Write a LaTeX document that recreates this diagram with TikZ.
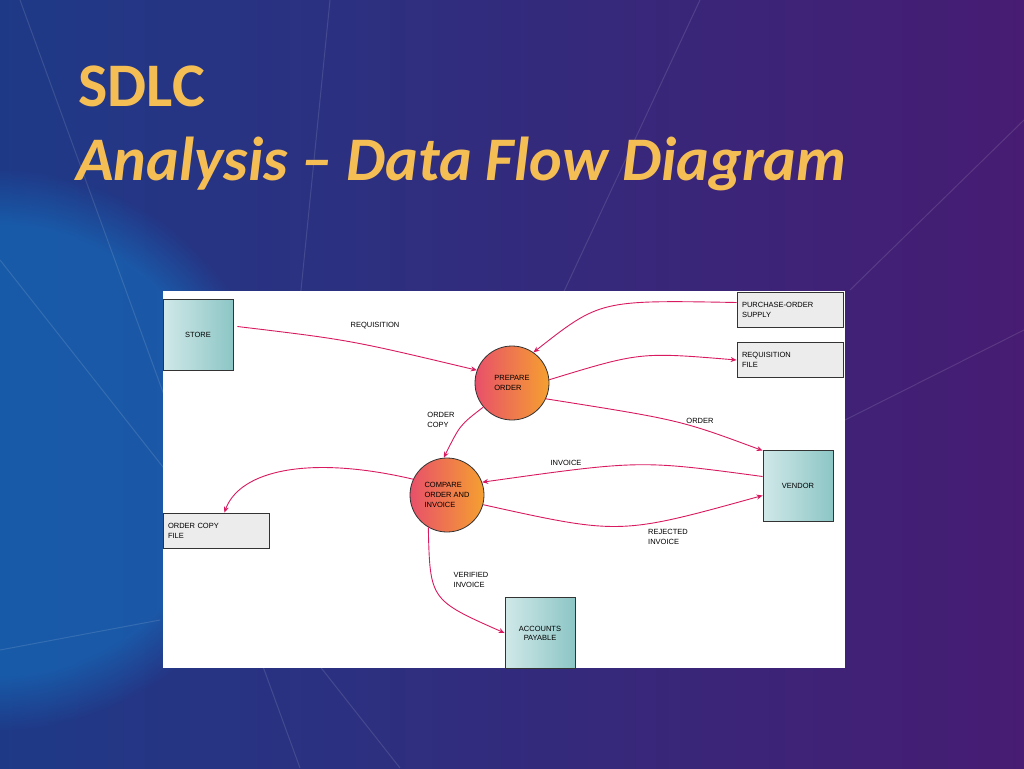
\documentclass[tikz,border=0pt]{standalone}
\usepackage{fontspec}
\setmainfont{Carlito}
\newfontfamily\dfd{Liberation Sans}
\usetikzlibrary{arrows.meta,shapes.geometric,fadings}
\definecolor{bgblue}{HTML}{1C4C9E}
\definecolor{bgpurple}{HTML}{5A1E7E}
\definecolor{bgdark}{HTML}{241A5E}
\definecolor{flow}{HTML}{D81B60}
\definecolor{gold}{HTML}{F5BE55}
\definecolor{pl}{HTML}{E8506A}
\definecolor{pr}{HTML}{F5A030}
\tikzset{
  ent/.style={draw=black!80, line width=0.8pt, left color=white!70!teal!60, right color=teal!45, minimum width=70pt, minimum height=71pt, inner sep=1pt, font=\dfd\fontsize{7.5}{9}\selectfont, align=center},
  store/.style={draw=black!80, line width=0.8pt, fill=gray!15, minimum width=106pt, minimum height=35pt, inner sep=5pt, font=\dfd\fontsize{7.5}{10}\selectfont, align=left, text width=96pt},
  proc/.style={draw=black!80, line width=0.8pt, ellipse, left color=pl, right color=pr, minimum width=74pt, minimum height=74pt, font=\dfd\fontsize{7.5}{10}\selectfont, align=left, inner sep=0pt},
  fl/.style={draw=flow, line width=0.9pt, -{Stealth[length=6pt,width=5pt]}},
  lab/.style={font=\dfd\fontsize{7.5}{10}\selectfont, align=left, text=black}
}
\begin{document}
\begin{tikzpicture}[x=1pt,y=-1pt]
\useasboundingbox (0,0) rectangle (1024,768);
\shade[left color=bgblue, right color=bgpurple] (0,0) rectangle (1024,768);
\shade[top color=bgdark, bottom color=bgdark, opacity=0.35] (0,0) rectangle (1024,768);
\fill[cyan!60!blue, opacity=0.5, path fading=circle with fuzzy edge 20 percent] (0,450) circle (280);
\foreach \a/\b in {{(20,0)/(300,768)},{(0,260)/(400,768)},{(330,0)/(300,300)},{(700,0)/(560,300)},{(1024,120)/(850,290)},{(1024,330)/(845,420)},{(0,650)/(160,620)}}
  \draw[white, opacity=0.12, line width=1pt] \a -- \b;
\node[anchor=base west, font=\fontsize{62}{64}\selectfont\bfseries, text=gold, inner sep=0] (t1) at (78,106) {SDLC};
\node[anchor=base west, font=\fontsize{62}{64}\selectfont\bfseries\itshape, text=gold, inner sep=0] (t2) at (76,180) {Analysis – Data Flow Diagram};
\fill[white] (163,291) rectangle (845,668);
\node[ent] (store) at (198,334.5) {STORE};
\node[ent] (vendor) at (798,486) {VENDOR};
\node[ent] (ap) at (540,633) {ACCOUNTS\\PAYABLE};
\node[store] (pos) at (790,309.5) {PURCHASE-ORDER\\SUPPLY};
\node[store] (rf) at (790,360) {REQUISITION\\FILE};
\node[store] (ocf) at (216,530.5) {ORDER COPY\\FILE};
\node[proc] (po) at (512,383) {PREPARE\\ORDER};
\node[proc] (co) at (447,495) {COMPARE\\ORDER AND\\INVOICE};
\draw[fl] (store.east) ++(4,-8) coordinate (s1) .. controls (350,340) .. (po.160);
\node[lab] (l1) at (375,326) {REQUISITION};
\draw[fl] (pos.west) ++(0,-7) coordinate (p1) .. controls (600,300) .. (po.55);
\draw[fl] (po.5) .. controls (640,352) .. (rf.west);
\draw[fl] (po.-25) .. controls (680,420) .. (vendor.135);
\node[lab] (l2) at (700,421) {ORDER};
\draw[fl] (po.220) .. controls (460,425) .. (co.95);
\node[lab] (l3) at (441,420) {ORDER\\COPY};
\draw[fl] (vendor.165) .. controls (640,460) .. (co.20);
\node[lab] (l4) at (566,463) {INVOICE};
\draw[fl] (co.155) .. controls (310,455) and (240,470) .. (ocf.65);
\draw[fl] (co.-15) .. controls (620,535) .. (vendor.-165);
\node[lab] (l5) at (668,537) {REJECTED\\INVOICE};
\draw[fl] (co.-120) .. controls (430,600) .. (ap.west);
\node[lab] (l6) at (471,580) {VERIFIED\\INVOICE};
\end{tikzpicture}
\end{document}
